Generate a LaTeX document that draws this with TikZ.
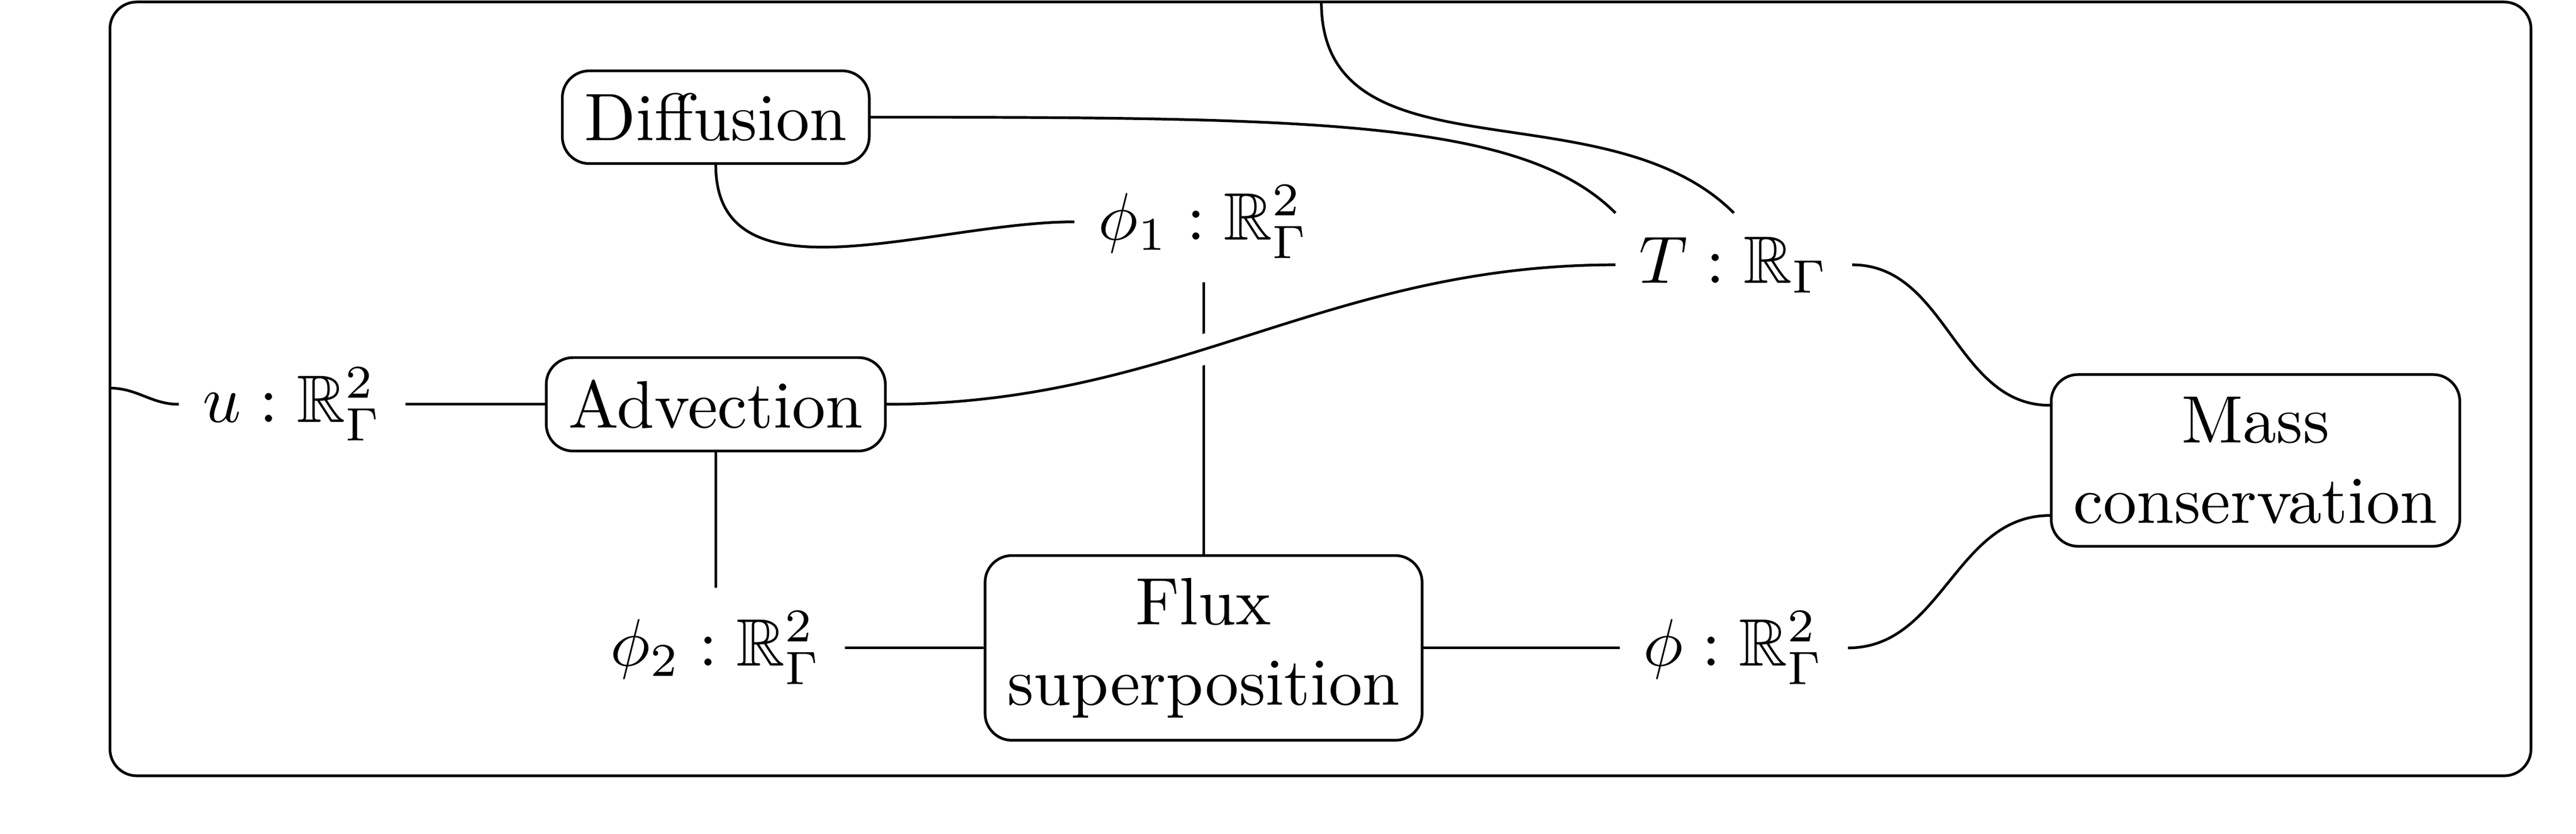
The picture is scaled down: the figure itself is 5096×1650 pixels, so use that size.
\documentclass[tikz,border=0pt]{standalone}
\usepackage{amssymb}
\begin{document}
\begin{tikzpicture}[x=0.07536pt,y=0.07536pt,
  proc/.style={draw, rounded corners, align=center},
  var/.style={},
  frame/.style={draw, rounded corners},
  bridge/.style={preaction={draw=white, line width=4.5pt}}]
\useasboundingbox (0,0) rectangle (5096,1650);
\draw[frame] (217.5,115) rectangle (5007,1646);
\coordinate (inU) at (217.5,882);
\coordinate (inT) at (2614,1646);
\node[proc] (diff) at (1416,1418) {Diffusion};
\node[proc] (adv) at (1416,850) {Advection};
\node[proc] (flux) at (2381,368) {Flux\\superposition};
\node[proc] (mass) at (4462,739) {Mass\\conservation};
\node[var] (u) at (578,850) {$u : \mathbb{R}^2_\Gamma$};
\node[var] (phione) at (2381,1211) {$\phi_1 : \mathbb{R}^2_\Gamma$};
\node[var] (T) at (3430,1126) {$T : \mathbb{R}_\Gamma$};
\node[var] (phitwo) at (1416,368) {$\phi_2 : \mathbb{R}^2_\Gamma$};
\node[var] (phi) at (3430,368) {$\phi : \mathbb{R}^2_\Gamma$};
\draw (u) -- (adv);
\draw (u.west) to[out=180,in=0] (inU);
\draw (diff.east) to[out=0,in=135,out looseness=1.5,in looseness=0.45] (T.north west);
\draw (inT) to[out=-90,in=135] (T.north);
\draw (diff.south) to[out=-90,in=180] (phione.west);
\draw (phione) -- (flux);
\draw[bridge] (adv.east) to[out=0,in=180] (T.west);
\draw (adv) -- (phitwo);
\draw (phitwo) -- (flux);
\draw (flux) -- (phi);
\draw (T.east) to[out=0,in=180] (mass.165);
\draw (phi.east) to[out=0,in=180] (mass.195);
\end{tikzpicture}
\end{document}
